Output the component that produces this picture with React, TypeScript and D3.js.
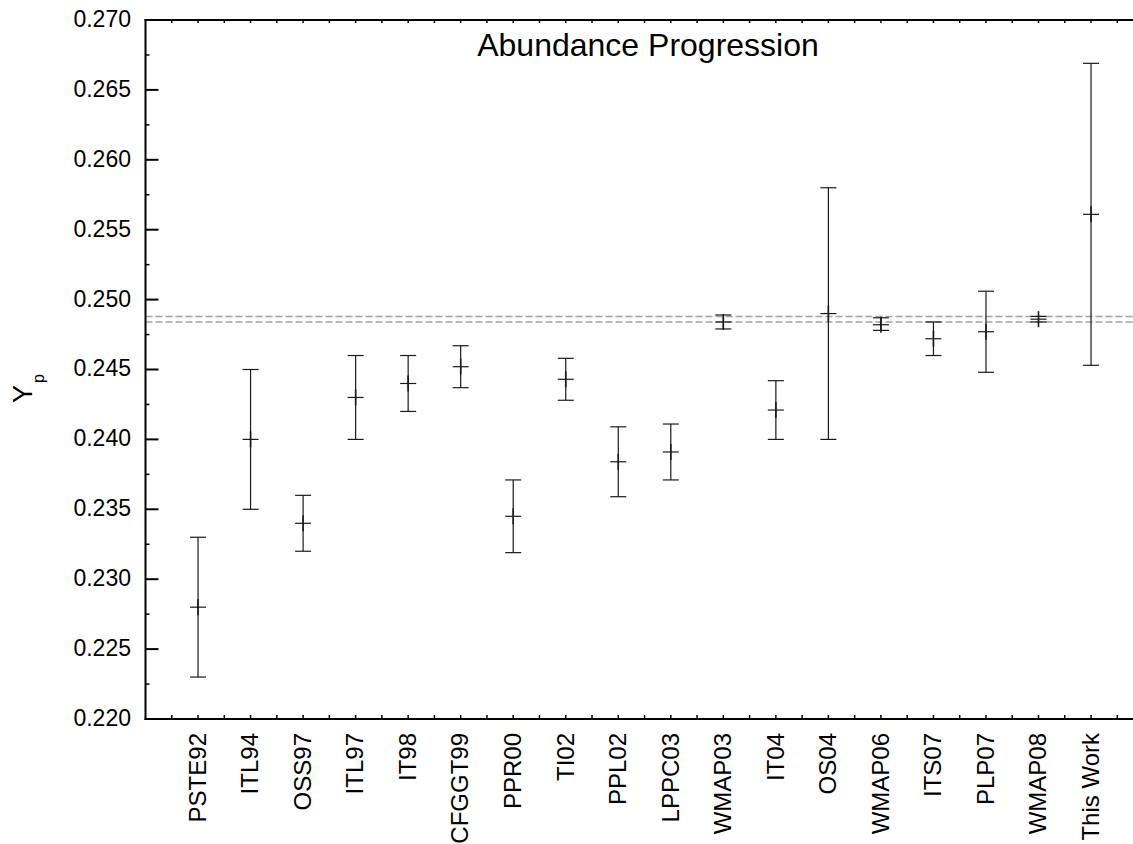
import React from "react";
import * as d3 from "d3";

const categories = ["PSTE92", "ITL94", "OSS97", "ITL97", "IT98", "ICFGGT99", "PPR00", "TI02", "PPL02", "LPPC03", "WMAP03", "IT04", "OS04", "WMAP06", "ITS07", "PLP07", "WMAP08", "This Work"];
const values = [0.228, 0.240, 0.234, 0.243, 0.244, 0.2452, 0.2345, 0.2443, 0.2384, 0.2391, 0.2484, 0.2421, 0.249, 0.2482, 0.2472, 0.2477, 0.2486, 0.2561];
const upper = [0.233, 0.245, 0.236, 0.246, 0.246, 0.2467, 0.2371, 0.2458, 0.2409, 0.2411, 0.2489, 0.2442, 0.258, 0.2487, 0.2484, 0.2506, 0.2488, 0.2669];
const lower = [0.223, 0.235, 0.232, 0.240, 0.242, 0.2437, 0.2319, 0.2428, 0.2359, 0.2371, 0.2479, 0.2400, 0.240, 0.2478, 0.2460, 0.2448, 0.2484, 0.2453];
const refLines = [0.2488, 0.2484];
const yTicks = [0.220, 0.225, 0.230, 0.235, 0.240, 0.245, 0.250, 0.255, 0.260, 0.265, 0.270];
const title = "Abundance Progression";

const W = 1133;
const H = 844;
const FONT = "'Liberation Sans', Arial, Helvetica, sans-serif";

export default function App() {
  const x = d3.scaleLinear().domain([0, 19]).range([145.5, 145.5 + 19 * 52.53]);
  const y = d3.scaleLinear().domain([0.22, 0.27]).range([719, 20]);
  const fmt = d3.format(".3f");
  const left = x(0);
  const right = W;
  const top = y(0.27);
  const bottom = y(0.22);

  const yMinor = d3.range(0, 10).map((i) => 0.2225 + i * 0.005);
  const xMinor = d3.range(1, 38).map((i) => i * 0.5).filter((v) => x(v) < right);
  const cap = 8;
  const stroke = "#1a1a1a";

  return (
    <svg width={W} height={H} style={{ position: "absolute", left: 0, top: 0, background: "#fff" }} fontFamily={FONT}>
      <rect x={0} y={0} width={W} height={H} fill="#fff" />
      {refLines.map((v, i) => (
        <line key={"r" + i} x1={left} x2={right} y1={y(v)} y2={y(v)} stroke="#a3a3a3" strokeWidth={1.5} strokeDasharray="7,3" />
      ))}
      {categories.map((c, i) => {
        const cx = x(i + 1);
        const yc = y(values[i]);
        const yu = y(upper[i]);
        const yl = y(lower[i]);
        return (
          <g key={c} stroke={stroke} strokeWidth={1.2} fill="none">
            <line x1={cx} x2={cx} y1={yu} y2={yl} />
            <line x1={cx - cap} x2={cx + cap} y1={yu} y2={yu} />
            <line x1={cx - cap} x2={cx + cap} y1={yl} y2={yl} />
            <line x1={cx - cap} x2={cx + cap} y1={yc} y2={yc} />
            <line x1={cx} x2={cx} y1={yc - 8} y2={yc + 8} strokeWidth={1.6} />
          </g>
        );
      })}
      <g stroke="#000" strokeWidth={2} fill="none">
        <line x1={left} x2={left} y1={top - 1} y2={bottom + 1} />
        <line x1={left - 1} x2={right} y1={bottom} y2={bottom} />
        <line x1={left - 1} x2={right} y1={top} y2={top} />
      </g>
      {yTicks.map((t) => (
        <g key={"yt" + t}>
          <line x1={left} x2={left + 13} y1={y(t)} y2={y(t)} stroke="#000" strokeWidth={2} />
          <text x={131} y={y(t)} dy="0.3em" textAnchor="end" fontSize={23} fill="#000">
            {fmt(t)}
          </text>
        </g>
      ))}
      {yMinor.map((t) => (
        <line key={"ym" + t} x1={left} x2={left + 4} y1={y(t)} y2={y(t)} stroke="#000" strokeWidth={1.5} />
      ))}
      {xMinor.map((v) => (
        <g key={"xm" + v} stroke="#000" strokeWidth={1.5}>
          <line x1={x(v)} x2={x(v)} y1={bottom} y2={bottom - 4} />
          <line x1={x(v)} x2={x(v)} y1={top} y2={top + 3} />
        </g>
      ))}
      {categories.map((c, i) => (
        <text
          key={"xl" + c}
          transform={`translate(${x(i + 1)},733) rotate(-90)`}
          dy={7.8}
          textAnchor="end"
          fontSize={24}
          fill="#000"
        >
          {c}
        </text>
      ))}
      <text transform="translate(32,403) rotate(-90)" textAnchor="start" fontSize={27} fill="#000">
        <tspan>Y</tspan>
        <tspan fontSize={16} dx={2} dy={12}>p</tspan>
      </text>
      <text x={648} y={56} textAnchor="middle" fontSize={32} fill="#000">
        {title}
      </text>
    </svg>
  );
}
